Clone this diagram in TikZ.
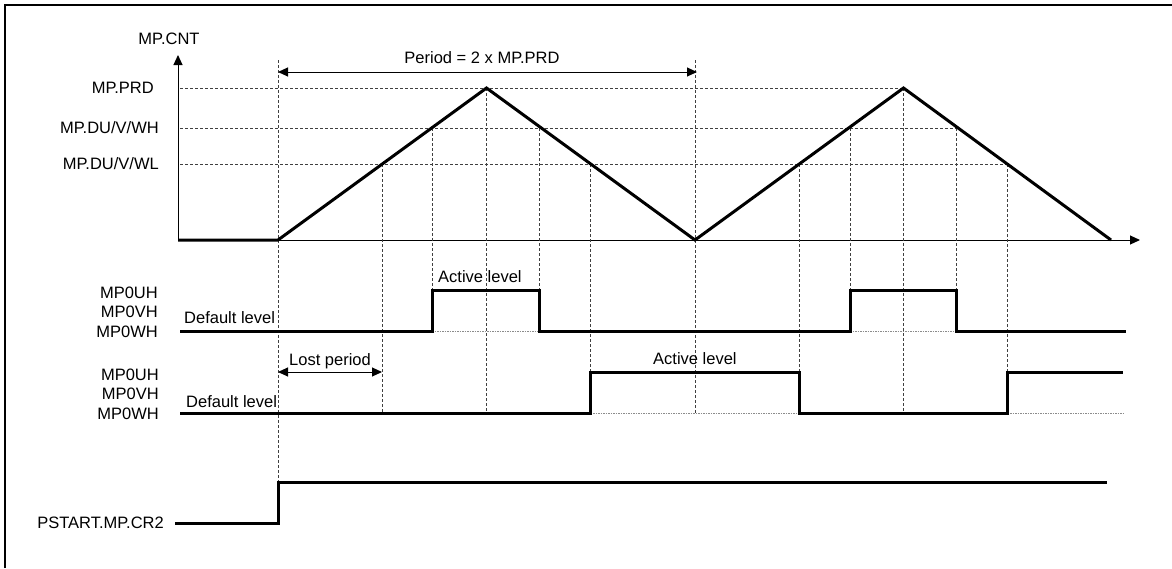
\documentclass[tikz,border=0pt]{standalone}
\usepackage{fontspec}
\setmainfont{Liberation Sans}
\usetikzlibrary{arrows.meta,positioning}

\begin{document}
\begin{tikzpicture}[
  x=1pt,y=-1pt,
  lbl/.style={inner sep=0pt,text depth=0pt,font=\fontsize{16.5}{19.5}\selectfont},
  wave/.style={line width=3pt,line join=miter},
  axis/.style={line width=1pt,-{Triangle[length=10pt,width=9pt]}},
  guide/.style={line width=0.8pt,dash pattern=on 3pt off 2pt,black!75},
  baseline/.style={line width=0.8pt,dash pattern=on 1.5pt off 1pt,black!45},
  dim/.style={line width=1pt,{Triangle[length=10pt,width=9pt]}-{Triangle[length=10pt,width=9pt]}}
]
  \useasboundingbox (0,0) rectangle (1172,568);
  % Frame
  \draw[line width=2.5pt] (5,568) -- (5,5) -- (1172,5);

  % Counter axes
  \coordinate (o) at (178,240);
  \coordinate (ytop) at (178,55);
  \coordinate (xend) at (1140,240);
  \draw[axis] (o) -- (ytop);
  \draw[axis] (o) -- (xend);
  \node[lbl] (cnt) at (169,39) {MP.CNT};
  \node[lbl,anchor=east] (prd) at (154,88) {MP.PRD};
  \node[lbl,anchor=east] (wh) at (159,128) {MP.DU/V/WH};
  \node[lbl,anchor=east] (wl) at (159,164) {MP.DU/V/WL};

  % Triangle counter
  \coordinate (s0) at (278,240);
  \coordinate (pk1) at (486.5,88);
  \coordinate (vl) at (695,240);
  \coordinate (pk2) at (903.5,88);
  \coordinate (s1) at (1111,240);
  \foreach \n/\x in {l1/382,l2/590.5,l3/799,l4/1007.5} \coordinate (\n) at (\x,164);
  \foreach \n/\x in {h1/432,h2/539,h3/850,h4/956} \coordinate (\n) at (\x,128);

  % Levels of the outputs
  \coordinate (ulo) at (180,331); \coordinate (uhi) at (180,290); \coordinate (uend) at (1126,331);
  \coordinate (vlo) at (180,413); \coordinate (vhi) at (180,372); \coordinate (vend) at (1123,372);
  \coordinate (plo) at (175,523); \coordinate (pup) at (278,482); \coordinate (pend) at (1107,482);
  \coordinate (t0) at (278,60);

  % Guides
  \draw[guide] (o |- pk2) ++(2,0) -- (pk2);
  \draw[guide] (o |- h4) ++(2,0) -- (h4);
  \draw[guide] (o |- l4) ++(2,0) -- (l4);
  \draw[guide] (t0) -- (pup);
  \draw[guide] (vl |- t0) -- (vl |- vlo);
  \draw[guide] (pk1) -- (pk1 |- vlo);
  \draw[guide] (pk2) -- (pk2 |- vlo);
  \draw[guide] (l1) -- (l1 |- vlo);
  \foreach \n in {l2,l3,l4} \draw[guide] (\n) -- (\n |- vhi);
  \foreach \n in {h1,h2,h3,h4} \draw[guide] (\n) -- (\n |- uhi);
  \draw[baseline] (h1 |- ulo) -- (h2 |- ulo);
  \draw[baseline] (h3 |- ulo) -- (h4 |- ulo);
  \draw[baseline] (l2 |- vlo) -- (l3 |- vlo);
  \draw[baseline] (l4 |- vlo) -- (vend |- vlo);

  \draw[wave] (o) -- (s0) -- (pk1) -- (vl) -- (pk2) -- (s1);

  % Output signals
  \draw[wave] (ulo) -- (h1 |- ulo) |- (h2 |- uhi) |- (h3 |- ulo) |- (h4 |- uhi) |- (uend);
  \draw[wave] (vlo) -- (l2 |- vlo) |- (l3 |- vhi) |- (l4 |- vlo) |- (vend);
  \draw[wave] (plo) -| (pup) -- (pend);

  \node[lbl,anchor=east,align=right] (outa) at (158,312) {MP0UH\\MP0VH\\MP0WH};
  \node[lbl,anchor=east,align=right] (outb) at (159,394) {MP0UH\\MP0VH\\MP0WH};
  \node[lbl,anchor=east] (pstart) at (164,523) {PSTART.MP.CR2};
  \node[lbl,anchor=west] (defa) at (184,318) {Default level};
  \node[lbl,anchor=west] (defb) at (186,402) {Default level};
  \node[lbl,anchor=west] (acta) at (438,277) {Active level};
  \node[lbl,anchor=west] (actb) at (653,359) {Active level};

  % Periods
  \coordinate (pa) at (278,72); \coordinate (pb) at (697,72);
  \draw[dim] (pa) -- (pb);
  \node[lbl] (per) at (482,58) {Period = 2 x MP.PRD};
  \coordinate (la) at (278,372); \coordinate (lb) at (382,372);
  \draw[dim] (la) -- (lb);
  \node[lbl] (lost) at (330,360) {Lost period};
\end{tikzpicture}
\end{document}
